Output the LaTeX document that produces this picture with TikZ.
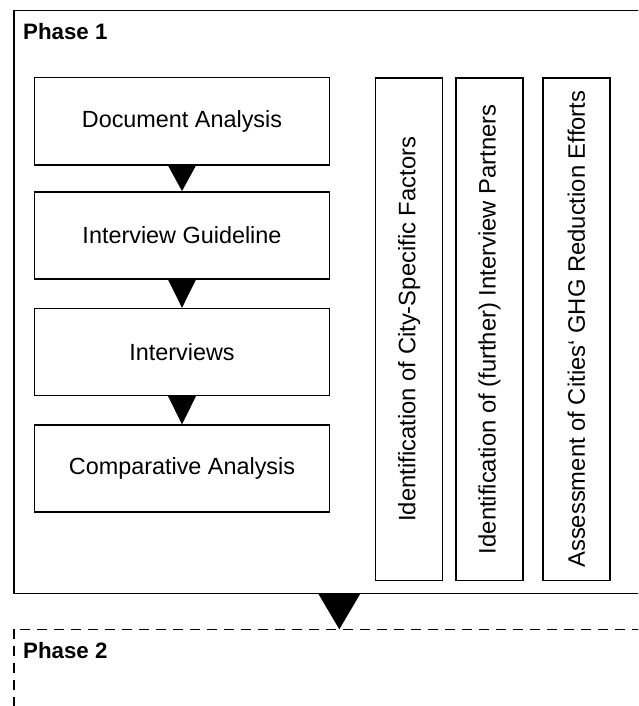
\documentclass[tikz,border=0pt]{standalone}
\usepackage{fontspec}
\setmainfont{Liberation Sans}
\usetikzlibrary{calc}
\tikzset{
  stepbox/.style={draw=black, line width=1.4pt, fill=white, inner sep=0pt,
    minimum width=295.3pt, minimum height=87pt,
    font=\fontsize{23.4}{27}\selectfont},
  vbox/.style={draw=black, line width=1.4pt, fill=white, inner sep=0pt,
    rotate=90, minimum width=502.3pt, minimum height=67pt,
    font=\fontsize{23.8}{27}\selectfont},
  phasebox/.style={draw=black, line width=1.2pt},
  phaselabel/.style={anchor=base west, inner sep=0pt, font=\fontsize{22.3}{25}\selectfont\bfseries},
  tri/.style={fill=black, draw=none}
}
\begin{document}
\begin{tikzpicture}[x=1pt,y=-1pt]
\useasboundingbox (0,0) rectangle (638,706);
\clip (0,0) rectangle (638,706);
% phase frames
\draw[phasebox] (14,10.5) rectangle (664.6,593.7);
\draw[phasebox, dash pattern=on 10pt off 7pt] (14,629.3) rectangle (664.6,760);
\coordinate (p1s) at (339.3,593.7);
\coordinate (p2n) at (339.3,629.3);
\node[phaselabel] (ph1) at (23,40) {Phase 1};
\node[phaselabel] (ph2) at (23,658) {Phase 2};
% left boxes
\node[stepbox] (b1) at (182,121.3) {Document Analysis};
\node[stepbox] (b2) at (182,235.3) {Interview Guideline};
\node[stepbox] (b3) at (182,352) {Interviews};
\node[stepbox] (b4) at (182,468.5) {Comparative Analysis};
% vertical boxes
\node[vbox] (v1) at (409.2,329.2) {Identification of City-Specific Factors};
\node[vbox] (v2) at (489.5,329.2) {Identification of (further) Interview Partners};
\node[vbox] (v3) at (576.3,329.2) {Assessment of Cities‘ GHG Reduction Efforts};
% triangle connectors
\foreach \a/\b in {b1/b2,b2/b3,b3/b4}{
  \fill[tri] ($(\a.south)+(-14,0)$) -- ($(\a.south)+(14,0)$) -- (\b.north) -- cycle;
}
\fill[tri] ($(p1s)+(-21,0)$) -- ($(p1s)+(21,0)$) -- (p2n) -- cycle;
\end{tikzpicture}
\end{document}
